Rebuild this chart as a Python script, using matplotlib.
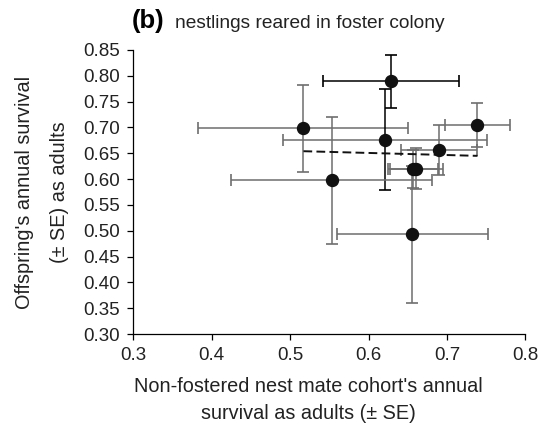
import matplotlib
matplotlib.use("Agg")
import matplotlib.pyplot as plt

plt.rcParams['font.family'] = ['Liberation Sans', 'DejaVu Sans']

# Data
fostered_x = [0.629, 0.517, 0.621, 0.739, 0.690, 0.657, 0.661, 0.553, 0.656]
offspring_y = [0.789, 0.698, 0.676, 0.705, 0.656, 0.620, 0.620, 0.598, 0.493]
x_se = [0.087, 0.134, 0.130, 0.041, 0.049, 0.032, 0.034, 0.128, 0.096]
y_se = [0.051, 0.085, 0.098, 0.043, 0.048, 0.037, 0.040, 0.123, 0.133]
fit_x = [0.517, 0.739]
fit_y = [0.654, 0.645]
x_ticks = [0.3, 0.4, 0.5, 0.6, 0.7, 0.8]
y_ticks = [0.30, 0.35, 0.40, 0.45, 0.50, 0.55, 0.60, 0.65, 0.70, 0.75, 0.80, 0.85]

# styles
grey = '#6e6e6e'
h_colors = ['black', grey, grey, grey, grey, grey, grey, grey, grey]
v_colors = ['black', grey, 'black', grey, grey, grey, grey, grey, grey]

fig = plt.figure(figsize=(5.41, 4.28), dpi=100)
ax = fig.add_axes([0.2464, 0.2196, 0.7246, 0.6636])

for xi, yi, xe, ye, hc, vc in zip(fostered_x, offspring_y, x_se, y_se, h_colors, v_colors):
    for kw, col in ((dict(xerr=xe), hc), (dict(yerr=ye), vc)):
        _, caps, _ = ax.errorbar(xi, yi, fmt='none', ecolor=col, elinewidth=1.1,
                                 capsize=4.3, capthick=1.2, zorder=2, **kw)
        for c in caps:
            c.set_color('black')

ax.plot(fostered_x, offspring_y, 'o', color='#111111', markersize=8.6, zorder=4)
ax.plot(fit_x, fit_y, color='#111111', linestyle=(0, (4.5, 2.2)), linewidth=1.4, zorder=3)

ax.set_xlim(0.3, 0.8)
ax.set_ylim(0.30, 0.85)
ax.set_xticks(x_ticks)
ax.set_xticklabels([f"{v:.1f}" for v in x_ticks])
ax.set_yticks(y_ticks)
ax.set_yticklabels([f"{v:.2f}" for v in y_ticks])
for s in ('top', 'right'):
    ax.spines[s].set_visible(False)
for s in ('left', 'bottom'):
    ax.spines[s].set_linewidth(0.9)
ax.tick_params(axis='both', labelsize=13.5, length=4.3, width=0.9, color='black', labelcolor='#222222')
ax.tick_params(axis='y', pad=5.5)
ax.tick_params(axis='x', pad=5)

ax.set_xlabel("Non-fostered nest mate cohort's annual\nsurvival as adults (\u00b1 SE)",
              fontsize=14.3, linespacing=1.55, color='#222222')
ax.xaxis.set_label_coords(0.446, -0.15, transform=ax.transAxes)
ax.xaxis.label.set_va('top')
ax.set_ylabel("Offspring's annual survival\n(\u00b1 SE) as adults",
              fontsize=14.3, linespacing=2.1, color='#222222')
ax.yaxis.set_label_coords(-0.163, 0.5, transform=ax.transAxes)

fig.text(0.244, 0.934, "(b)", fontsize=18.5, fontweight='bold', va='baseline', ha='left')
fig.text(0.323, 0.934, "nestlings reared in foster colony", fontsize=13.8, va='baseline', ha='left', color='#222222')

fig.savefig("out.png", dpi=100)
